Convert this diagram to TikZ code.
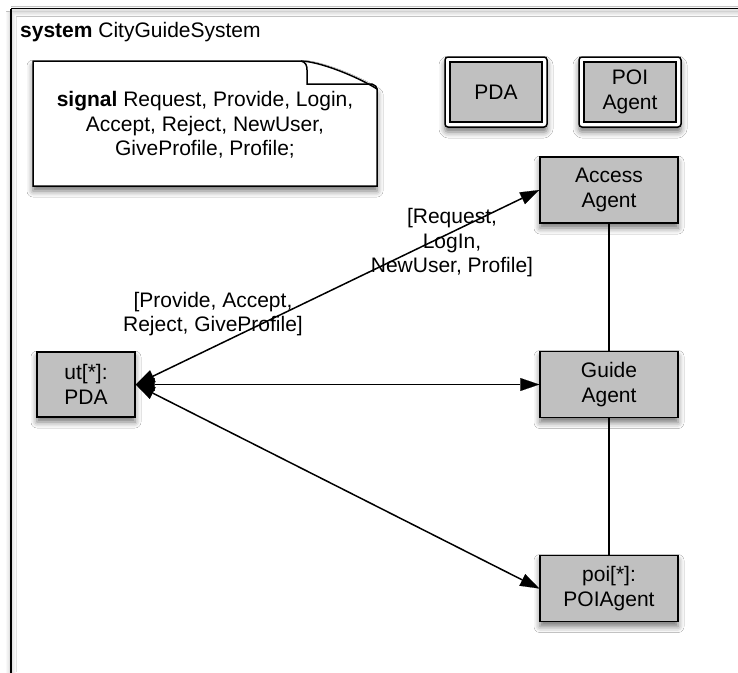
\documentclass[tikz,border=0pt]{standalone}
\usepackage{fontspec}
\setmainfont{Liberation Sans}
\usetikzlibrary{arrows.meta,shadows.blur}
\tikzset{
  lbl/.style={font=\fontsize{21}{24.5}\selectfont, align=center, inner sep=0pt},
  agent/.style={draw, line width=1.5pt, fill=boxgray, align=center, font=\fontsize{21}{24.5}\selectfont,
    inner sep=0pt, minimum width=138pt, minimum height=66pt,
    blur shadow={shadow xshift=0pt, shadow yshift=-5pt, shadow blur radius=6pt, shadow opacity=55}},
  typeouter/.style={draw, line width=1.5pt, fill=white, rounded corners=3pt, inner sep=0pt,
    minimum width=102pt, minimum height=70pt,
    blur shadow={shadow xshift=0pt, shadow yshift=-5pt, shadow blur radius=6pt, shadow opacity=55}},
  typeinner/.style={draw, line width=1.5pt, fill=boxgray, align=center, font=\fontsize{21}{24.5}\selectfont,
    inner sep=0pt, minimum width=92pt, minimum height=60pt},
  conn/.style={line width=1.5pt},
  tip/.tip={Triangle[length=19pt,width=13pt,fill=black,color=black,line width=0.1pt]},
  biarrow/.style={line width=1.5pt, tip-tip},
}
\definecolor{boxgray}{RGB}{192,192,192}
\begin{document}
\begin{tikzpicture}[x=1pt,y=-1pt]
\useasboundingbox (0,0) rectangle (738,672);
\fill[white] (0,0) rectangle (738,672);
% frame
\draw[line width=1.5pt, blur shadow={shadow xshift=0pt, shadow yshift=-3pt, shadow blur radius=5pt, shadow opacity=35}] (11,8.5) -- (750,8.5) (11,8.5) -- (11,690);
\node[lbl, anchor=west] (title) at (20,32) {\textbf{system} CityGuideSystem};
% note
\fill[white, blur shadow={shadow xshift=0pt, shadow yshift=-5pt, shadow blur radius=6pt, shadow opacity=55}]
  (33,61) -- (300,61) .. controls (320,61) and (360,78) .. (377,89) -- (377,186) -- (33,186) -- cycle;
\draw[line width=1.5pt] (33,61) -- (300,61) .. controls (320,61) and (360,78) .. (377,89) -- (377,186) -- (33,186) -- cycle;
\draw[line width=1.5pt] (301,61) .. controls (306,62) and (307,66) .. (307,70) -- (307,84) -- (372,84) .. controls (375,85) and (377,87) .. (377,89);
\node[lbl] (note) at (205,125) {\textbf{signal} Request, Provide, Login,\\Accept, Reject, NewUser,\\GiveProfile, Profile;};
% type boxes
\node[typeouter] (pdaO) at (496,92) {};
\node[typeinner] (pda) at (496,92) {PDA};
\node[typeouter] (poiO) at (630,92) {};
\node[typeinner] (poiT) at (630,92) {POI\\Agent};
% agents
\node[agent] (access) at (609,190) {Access\\Agent};
\node[agent] (guide) at (609,384.5) {Guide\\Agent};
\node[agent] (poi) at (609,588.5) {poi[*]:\\POIAgent};
\node[agent, minimum width=98pt, minimum height=65pt] (ut) at (86,384.5) {ut[*]:\\PDA};
% connectors
\draw[conn] (access) -- (guide);
\draw[conn] (guide) -- (poi);
\draw[biarrow] (ut.east) -- (access.west);
\draw[biarrow] (ut.east) -- (guide.west);
\draw[biarrow] (ut.east) -- (poi.west);
% labels
\node[lbl] (l1) at (452,243) {[Request,\\LogIn,\\NewUser, Profile]};
\node[lbl] (l2) at (213,314) {[Provide, Accept,\\Reject, GiveProfile]};
\end{tikzpicture}
\end{document}
